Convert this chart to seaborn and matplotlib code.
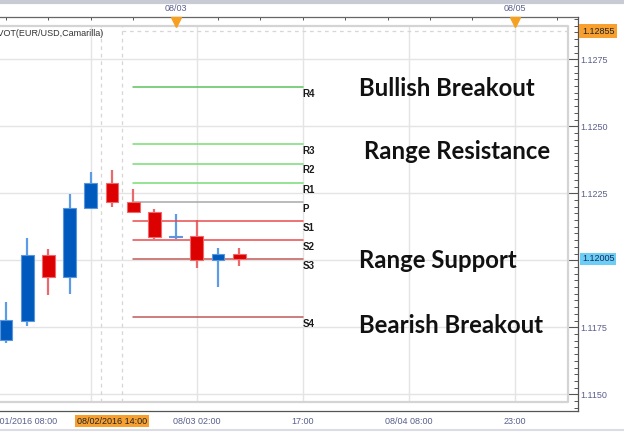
import matplotlib
matplotlib.use("Agg")
import matplotlib.pyplot as plt
from matplotlib.transforms import blended_transform_factory
from matplotlib.ticker import FixedLocator
import numpy as np
import pandas as pd
import seaborn as sns

# EUR/USD 3h candles
opens = [1.11701, 1.11774, 1.12020, 1.11937, 1.12194, 1.12290, 1.12218, 1.12179, 1.12087, 1.12091, 1.12001, 1.12022]
closes = [1.11776, 1.12020, 1.11937, 1.12196, 1.12290, 1.12216, 1.12179, 1.12088, 1.12092, 1.12000, 1.12022, 1.12004]
highs = [1.11844, 1.12083, 1.12042, 1.12249, 1.12328, 1.12336, 1.12267, 1.12190, 1.12173, 1.12150, 1.12045, 1.12045]
lows = [1.11691, 1.11756, 1.11869, 1.11875, 1.12194, 1.12200, 1.12175, 1.12081, 1.12081, 1.11972, 1.11900, 1.11980]

# camarilla pivot levels
pivot_names = ['R4', 'R3', 'R2', 'R1', 'P', 'S1', 'S2', 'S3', 'S4']
pivot_levels = [1.12646, 1.12433, 1.12359, 1.12288, 1.12216, 1.12146, 1.12075, 1.12004, 1.11788]

# zone notes
zone_labels = ['Bullish Breakout', 'Range Resistance', 'Range Support', 'Bearish Breakout']
zone_prices = [1.12613, 1.12378, 1.11970, 1.11729]

# axis labels
price_ticks = [1.1150, 1.1175, 1.1200, 1.1225, 1.1250, 1.1275]
price_labels = ['1.1150', '1.1175', '', '1.1225', '1.1250', '1.1275']
time_ticks = [4, 9, 14, 19, 24]
time_labels = ['', '08/03 02:00', '17:00', '08/04 08:00', '23:00']
day_ticks = [8, 24]
day_labels = ['08/03', '08/05']
last_price = 1.12855
cursor_price = 1.12005
cursor_time = '08/02/2016 14:00'
first_time = '08/01/2016 08:00'

sns.set_theme(style='white')
plt.rcParams['font.family'] = ['Liberation Sans', 'DejaVu Sans']

fig = plt.figure(figsize=(6.24, 4.33), dpi=100)
ax = fig.add_axes([0, 22 / 433, 578 / 624, 394 / 433])
ax.set_xlim(-0.283, 26.98)
ax.set_ylim(1.114377, 1.129078)

frame_right = 26.51
frame_top = 1.128743
frame_bottom = 1.114713
grid_col = '#e4e4e4'
tick_col = '#5a5f8c'

# grid inside the inner frame
ax.hlines(price_ticks, -1, frame_right, color=grid_col, lw=1, zorder=0)
ax.vlines(time_ticks, frame_bottom, frame_top, color=grid_col, lw=1, zorder=0)
ax.vlines([4.48, 5.47], frame_bottom, frame_top, color='#d6d6d6', lw=0.9, ls=(0, (3, 3)), zorder=0)
ax.hlines(last_price, 5.47, frame_right, color='#d6d6d6', lw=0.9, ls=(0, (3, 3)), zorder=0)

# inner frame
ax.plot([-1, frame_right, frame_right, -1], [frame_top, frame_top, frame_bottom, frame_bottom],
        color='#d4d4d4', lw=1.6, zorder=1)

# candles
x = np.arange(len(opens))
up = np.array(closes) >= np.array(opens)
wick_cols = np.where(up, '#5c9ce6', '#e86a6a')
body_cols = np.where(up, '#005abe', '#dd0000')
edge_cols = np.where(up, '#5a96dc', '#ee6a6a')
ax.vlines(x, lows, highs, colors=wick_cols, lw=1.6, zorder=2)
ax.bar(x, np.array(closes) - np.array(opens), bottom=opens, width=0.6,
       color=body_cols, edgecolor=edge_cols, linewidth=0.8, zorder=3)

# pivot lines
piv = pd.DataFrame({'level': np.repeat(pivot_names, 2),
                    'x': [6, 14] * len(pivot_names),
                    'price': np.repeat(pivot_levels, 2)})
pal = {'R4': '#5cc45c', 'R3': '#78dc78', 'R2': '#78dc78', 'R1': '#78dc78', 'P': '#a8a8a8',
       'S1': '#e84c4c', 'S2': '#e84c4c', 'S3': '#c45a5a', 'S4': '#c05858'}
sns.lineplot(data=piv, x='x', y='price', hue='level', palette=pal, legend=False,
             linewidth=1.1, ax=ax, zorder=2)
for name, lvl in zip(pivot_names, pivot_levels):
    ax.annotate(name, (14, lvl), xytext=(0, -1), textcoords='offset points',
                ha='left', va='top', fontsize=7, fontweight='bold', color='#1a1a1a')

for txt, yv, xv in zip(zone_labels, zone_prices, [16.65, 16.9, 16.65, 16.65]):
    ax.text(xv, yv, txt, ha='left', va='baseline', fontsize=17.2, fontweight='bold',
            family=['Lato', 'DejaVu Sans'], color='#111111')

ax.text(4.58, 1.12848, 'PIVOT(EUR/USD,Camarilla)', ha='right', va='center', fontsize=6.5, color='#333333')

ax.set_xlabel('')
ax.set_ylabel('')

# spines / ticks
for s in ['left', 'top']:
    ax.spines[s].set_visible(False)
for s in ['right', 'bottom']:
    ax.spines[s].set_color('#555555')
    ax.spines[s].set_linewidth(0.9)

ax.yaxis.tick_right()
ax.set_yticks(price_ticks)
ax.set_yticklabels(price_labels)
ax.yaxis.set_minor_locator(FixedLocator(np.arange(1.1145, 1.1291, 0.00025)))
ax.tick_params(axis='y', which='major', direction='in', length=7.2, width=0.8, color='#555555',
               labelsize=6.5, labelcolor=tick_col, pad=2, right=True, left=False)
ax.tick_params(axis='y', which='minor', direction='in', length=2.8, width=0.7, color='#555555',
               right=True, left=False)

ax.set_xticks(time_ticks)
ax.set_xticklabels(time_labels)
ax.xaxis.set_minor_locator(FixedLocator(np.arange(-1, 27, 0.625)))
ax.tick_params(axis='x', which='major', direction='in', length=6.5, width=0.8, color='#555555',
               labelsize=6.5, labelcolor=tick_col, pad=4)
ax.tick_params(axis='x', which='minor', direction='in', length=2.8, width=0.7, color='#555555')

xb = blended_transform_factory(ax.transData, ax.transAxes)
yb = blended_transform_factory(ax.transAxes, ax.transData)
ax.text(2.41, -10 / 394, first_time, transform=xb, ha='right', va='center', fontsize=6.5, color=tick_col)
ax.text(5.0, -10 / 394, cursor_time, transform=xb, ha='center', va='center', fontsize=6.5, color='#222222',
        bbox=dict(boxstyle='square,pad=0.2', fc='#f7a030', ec='none'))
ax.text(1 + 4 / 578, last_price, f'{last_price:.5f}', transform=yb, ha='left', va='center',
        fontsize=6.5, color='#222222', bbox=dict(boxstyle='square,pad=0.3', fc='#f7a030', ec='none'))
ax.text(1 + 4 / 578, cursor_price, f'{cursor_price:.5f}', transform=yb, ha='left', va='center',
        fontsize=6.5, color='#1a2a60', bbox=dict(boxstyle='square,pad=0.2', fc='#6ccdf5', ec='none'))

# top date strip
top = ax.secondary_xaxis('top')
top_ticks = np.arange(0, 27, 2)
top.set_xticks(top_ticks)
top.set_xticklabels([day_labels[day_ticks.index(t)] if t in day_ticks else '' for t in top_ticks])
top.tick_params(direction='in', length=2.5, width=0.7, color='#555555', labelsize=6.5,
                labelcolor=tick_col, pad=3)
top.spines['top'].set_color('#666666')
top.spines['top'].set_linewidth(0.9)
ax.plot(day_ticks, [1 - 5 / 394] * len(day_ticks), transform=xb, marker='v', ms=6.5,
        color='#f5a020', ls='none', clip_on=False, zorder=5)

# outer border bits
fig.add_artist(plt.Line2D([0, 1], [1 - 1.5 / 433, 1 - 1.5 / 433], color='#c8cad4', lw=3))
fig.add_artist(plt.Line2D([0, 1], [3 / 433, 3 / 433], color='#dcdde4', lw=1.5))

fig.savefig('out.png', dpi=100)
